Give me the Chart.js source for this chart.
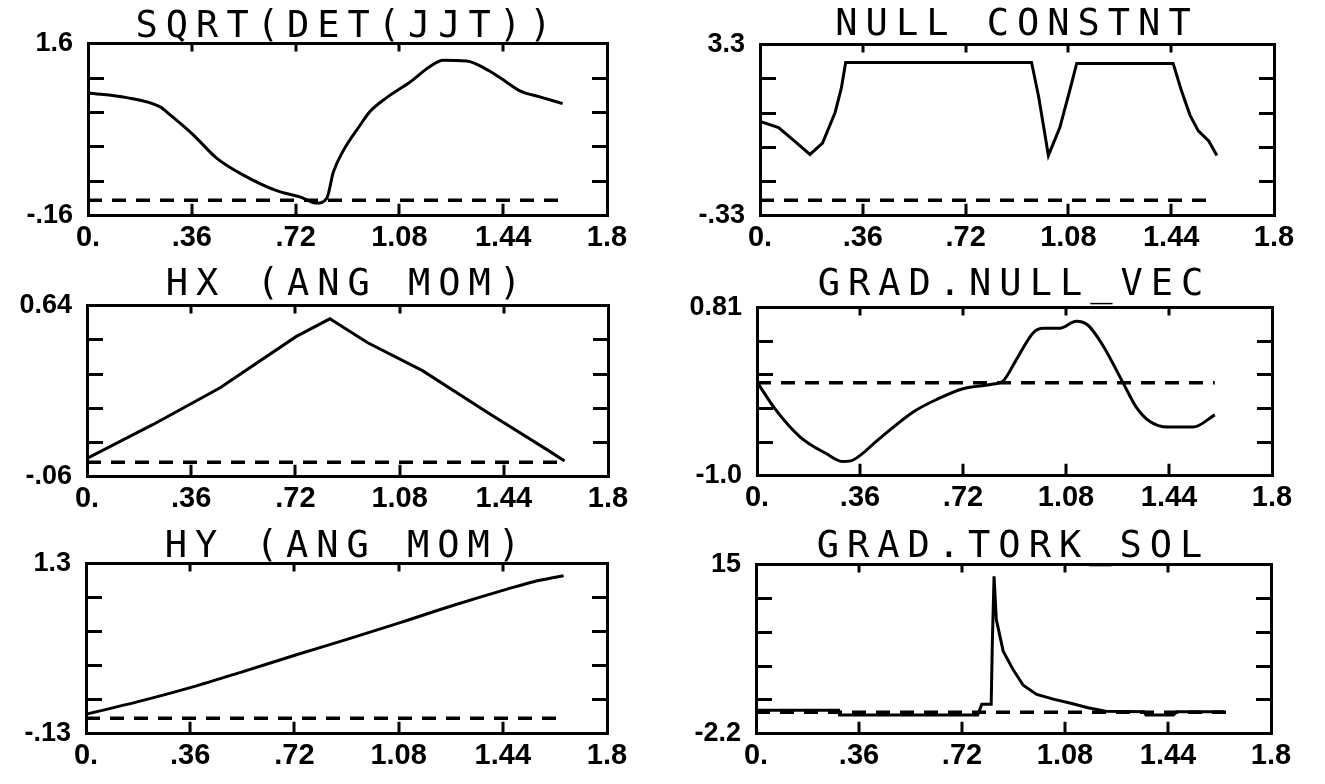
<!DOCTYPE html>
<html><head><meta charset="utf-8">
<script src="https://cdn.jsdelivr.net/npm/chart.js@4.4.1/dist/chart.umd.min.js"></script>
<style>
html,body{margin:0;padding:0;background:#fff;}
#wrap{position:relative;width:1325px;height:784px;background:#fff;overflow:hidden;}
.p{position:absolute;}
canvas{display:block;}
</style></head><body><div id="wrap"></div>
<script>
// ---------- data ----------
const xTickLabels = ['0.', '.36', '.72', '1.08', '1.44', '1.8'];

const titles = ['SQRT(DET(JJT))', 'NULL CONSTNT', 'HX (ANG MOM)', 'GRAD.NULL_VEC', 'HY (ANG MOM)', 'GRAD.TORK_SOL'];

const yRanges = [[-0.16, 1.6], [-0.33, 3.3], [-0.06, 0.64], [-1.0, 0.81], [-0.13, 1.3], [-2.2, 15]];
const yTickLabels = [['-.16', '1.6'], ['-.33', '3.3'], ['-.06', '0.64'], ['-1.0', '0.81'], ['-.13', '1.3'], ['-2.2', '15']];

const sqrtX = [0, 0.134, 0.25, 0.284, 0.365, 0.446, 0.539, 0.654, 0.735, 0.793, 0.828, 0.851, 0.886, 0.943, 0.978, 1.036, 1.117, 1.186, 1.232, 1.313, 1.394, 1.427, 1.50, 1.573, 1.646];
const sqrtY = [1.096, 1.048, 0.953, 0.874, 0.668, 0.43, 0.256, 0.097, 0.033, -0.03, 0.018, 0.287, 0.509, 0.763, 0.906, 1.048, 1.207, 1.365, 1.429, 1.423, 1.317, 1.256, 1.114, 1.051, 0.987];

const nullX = [0, 0.065, 0.116, 0.175, 0.219, 0.263, 0.285, 0.30, 0.951, 0.976, 1.010, 1.050, 1.087, 1.109, 1.447, 1.476, 1.506, 1.535, 1.572, 1.60];
const nullY = [1.67, 1.54, 1.28, 0.97, 1.21, 1.86, 2.38, 2.92, 2.92, 2.19, 0.95, 1.54, 2.38, 2.90, 2.90, 2.32, 1.80, 1.47, 1.25, 0.95];

const hxX = [0, 0.227, 0.46, 0.722, 0.839, 0.97, 1.159, 1.392, 1.596, 1.65];
const hxY = [0.015, 0.153, 0.304, 0.513, 0.586, 0.488, 0.374, 0.197, 0.046, 0.005];

const gnX = [0, 0.063, 0.15, 0.243, 0.301, 0.336, 0.429, 0.546, 0.627, 0.72, 0.825, 0.86, 0.907, 0.965, 1.0, 1.058, 1.116, 1.157, 1.209, 1.279, 1.326, 1.372, 1.436, 1.524, 1.60];
const gnY = [0.01, -0.28, -0.58, -0.763, -0.847, -0.83, -0.597, -0.313, -0.18, -0.063, -0.013, 0.02, 0.253, 0.537, 0.587, 0.587, 0.663, 0.62, 0.403, 0.003, -0.263, -0.413, -0.476, -0.476, -0.344];

const hyX = [0, 0.18, 0.363, 0.545, 0.727, 0.91, 1.091, 1.27, 1.455, 1.55, 1.65];
const hyY = [0.034, 0.14, 0.26, 0.395, 0.534, 0.67, 0.808, 0.95, 1.086, 1.15, 1.198];

const tkX = [0, 0.289, 0.292, 0.775, 0.789, 0.822, 0.826, 0.832, 0.840, 0.864, 0.899, 0.934, 0.981, 1.039, 1.10, 1.16, 1.222, 1.356, 1.363, 1.459, 1.47, 1.637];
const tkY = [0.2, 0.2, -0.3, -0.3, 0.8, 0.8, 7.0, 13.8, 9.4, 6.2, 4.3, 2.74, 1.8, 1.32, 0.9, 0.45, 0.1, 0.05, -0.3, -0.3, 0.05, 0.05];

const zeroLineEnd = [1.65, 1.59, 1.65, 1.60, 1.65, 1.65];

const seriesX = [sqrtX, nullX, hxX, gnX, hyX, tkX];
const seriesY = [sqrtY, nullY, hxY, gnY, hyY, tkY];
const smooth = [true, false, false, true, true, false];

// ---------- layout (chart-area boxes in page pixels) ----------
const boxes = [
  {l: 88, t: 42, w: 519, h: 185, g: 5},
  {l: 760, t: 43, w: 514, h: 184, g: 8},
  {l: 87, t: 304, w: 521, h: 184, g: 9},
  {l: 757, t: 306, w: 515, h: 181, g: 11},
  {l: 86, t: 562, w: 521, h: 183, g: 5},
  {l: 756, t: 563, w: 515, h: 182, g: 6}
];
const LEFT = 88, TOP = 50, RIGHT = 40, BOTTOM = 36;

const labelFont = "'Liberation Sans','Arimo',sans-serif";
const titleFont = "'DejaVu Sans Mono',monospace";

// wide plotter-style lettering for the titles only (ticks/labels are drawn after datasets)
const titleSpacing = {
  id: 'titleSpacing',
  beforeDraw(chart) { chart.ctx.letterSpacing = '8px'; },
  beforeDatasetsDraw(chart) { chart.ctx.letterSpacing = '0px'; }
};

// inward tick marks on the top and bottom frame edges, placed with the x scale
const xInnerTicks = {
  id: 'xInnerTicks',
  afterDatasetsDraw(chart) {
    const xs = chart.scales.x, a = chart.chartArea, ctx = chart.ctx;
    ctx.save();
    ctx.strokeStyle = '#000';
    ctx.lineWidth = 3;
    ctx.beginPath();
    xs.ticks.forEach((t, k) => {
      if (k === 0 || k === xs.ticks.length - 1) return;
      const px = Math.round(xs.getPixelForValue(t.value));
      ctx.moveTo(px, a.bottom);
      ctx.lineTo(px, a.bottom - 12);
      ctx.moveTo(px, a.top);
      ctx.lineTo(px, a.top + 8);
    });
    ctx.stroke();
    ctx.restore();
  }
};

const wrap = document.getElementById('wrap');

boxes.forEach((b, i) => {
  const div = document.createElement('div');
  div.className = 'p';
  div.style.left = (b.l - LEFT) + 'px';
  div.style.top = (b.t - TOP) + 'px';
  const cv = document.createElement('canvas');
  const W = LEFT + b.w + RIGHT, H = TOP + b.h + BOTTOM;
  cv.width = W; cv.height = H;
  cv.style.width = W + 'px'; cv.style.height = H + 'px';
  div.appendChild(cv);
  wrap.appendChild(div);

  const pts = seriesX[i].map((x, k) => ({x: x, y: seriesY[i][k]}));
  const [ymin, ymax] = yRanges[i];

  const gridCommon = {z: 1, drawOnChartArea: false, drawTicks: true, color: '#000', tickColor: '#000', lineWidth: 3, tickWidth: 3};
  const borderCommon = {display: true, color: '#000', width: 3, z: 1};

  new Chart(cv, {
    type: 'line',
    plugins: [titleSpacing, xInnerTicks],
    data: {
      datasets: [
        {
          data: pts,
          borderColor: '#000',
          borderWidth: 3,
          pointRadius: 0,
          fill: false,
          tension: 0,
          cubicInterpolationMode: smooth[i] ? 'monotone' : 'default',
          order: 0
        },
        {
          data: [{x: 0, y: 0}, {x: zeroLineEnd[i], y: 0}],
          borderColor: '#000',
          borderWidth: 3.5,
          borderDash: [14, 10],
          pointRadius: 0,
          fill: false,
          order: 1
        }
      ]
    },
    options: {
      responsive: false,
      animation: false,
      devicePixelRatio: 1,
      layout: {padding: 0},
      plugins: {
        legend: {display: false},
        tooltip: {enabled: false},
        title: {
          display: true,
          text: titles[i],
          fullSize: false,
          color: '#000',
          font: {family: titleFont, size: 37, weight: 'normal', lineHeight: 0.8},
          padding: {top: 25.6 - b.g, bottom: b.g - 3.6}
        }
      },
      scales: {
        x: {
          type: 'linear', position: 'bottom', min: 0, max: 1.8,
          ticks: {
            count: 6, autoSkip: false, maxRotation: 0, color: '#000', padding: 5, z: 1,
            font: {family: labelFont, size: 29, weight: 'bold'},
            callback: (v, k) => xTickLabels[k]
          },
          grid: Object.assign({}, gridCommon, {drawTicks: false}),
          border: borderCommon,
          afterFit: s => { s.height = BOTTOM; }
        },
        y: {
          type: 'linear', position: 'left', min: ymin, max: ymax,
          ticks: {
            count: 6, autoSkip: false, color: '#000', padding: 31, z: 1,
            font: {family: labelFont, size: 27, weight: 'bold'},
            callback: (v, k, arr) => k === 0 ? yTickLabels[i][0] : (k === arr.length - 1 ? yTickLabels[i][1] : '')
          },
          grid: Object.assign({}, gridCommon, {tickLength: -16}),
          border: borderCommon,
          afterFit: s => { s.width = LEFT; }
        },
        y2: {
          type: 'linear', position: 'right', min: ymin, max: ymax,
          ticks: {count: 6, display: false, z: 1},
          grid: Object.assign({}, gridCommon, {tickLength: -15}),
          border: borderCommon,
          afterFit: s => { s.width = RIGHT; }
        },
        x2: {
          type: 'linear', position: 'top', min: 0, max: 1.8,
          ticks: {count: 6, display: false, z: 1},
          grid: Object.assign({}, gridCommon, {drawTicks: false}),
          border: borderCommon,
          afterFit: s => { s.height = 0; }
        }
      }
    }
  });
});
</script>
</body></html>
